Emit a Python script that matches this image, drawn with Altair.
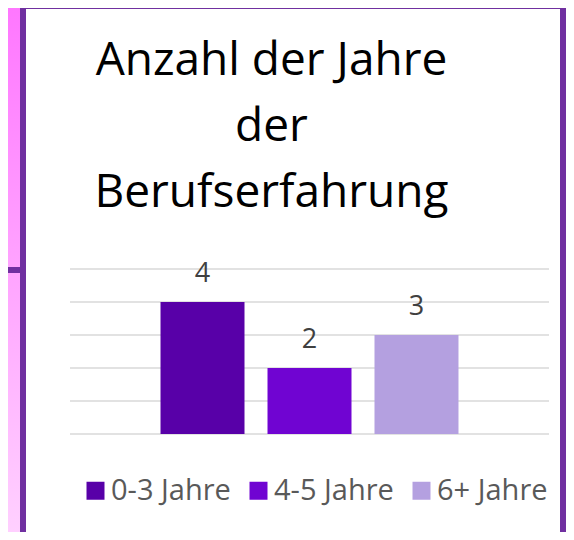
import altair as alt
import pandas as pd

categories = ["0-3 Jahre", "4-5 Jahre", "6+ Jahre"]
values = [4, 2, 3]
colors = ["#5800A8", "#7004D2", "#B4A0E0"]
grid_values = [0, 1, 2, 3, 4, 5]
title_lines = ["Anzahl der Jahre", "der", "Berufserfahrung"]

df = pd.DataFrame({"Kategorie": categories, "Anzahl": values})
grid_df = pd.DataFrame({"Anzahl": grid_values})
one = pd.DataFrame({"k": [0]})

FONT = "Open Sans"
PURPLE = "#7030A0"

y_scale = alt.Scale(domain=[0, 5], nice=False)

x_enc = alt.X("Kategorie:N", sort=categories, axis=None,
              scale=alt.Scale(paddingInner=0.215, paddingOuter=0.846))
y_enc = alt.Y("Anzahl:Q", scale=y_scale, axis=None)

grid = alt.Chart(grid_df).mark_rule(color="#D9D9D9", strokeWidth=1.5).encode(
    y=alt.Y("Anzahl:Q", scale=y_scale, axis=None))

bars = alt.Chart(df).mark_bar().encode(
    x=x_enc,
    y=y_enc,
    color=alt.Color("Kategorie:N", sort=categories,
                    scale=alt.Scale(domain=categories, range=colors),
                    legend=alt.Legend(title=None, orient="none", direction="horizontal",
                                      legendX=11, legendY=207, padding=0,
                                      symbolType="square", symbolSize=324,
                                      symbolStrokeWidth=0, labelFont=FONT,
                                      labelFontSize=29, labelColor="#595959",
                                      labelOffset=1, columnPadding=13,
                                      columns=3)),
)

labels = alt.Chart(df).mark_text(font=FONT, fontSize=27, color="#404040",
                                 baseline="alphabetic", dy=-20).encode(
    x=alt.X("Kategorie:N", sort=categories),
    y="Anzahl:Q",
    text="Anzahl:Q",
)

grad = alt.LinearGradient(gradient="linear",
                          stops=[alt.GradientStop(color="#FF77FF", offset=0),
                                 alt.GradientStop(color="#FFD0FF", offset=1)],
                          x1=0, x2=0, y1=0, y2=1)

pink_strip = alt.Chart(one).mark_rect(fill=grad).encode(
    x=alt.value(-62), x2=alt.value(-50), y=alt.value(-261), y2=alt.value(263))
left_border = alt.Chart(one).mark_rect(fill=PURPLE).encode(
    x=alt.value(-50), x2=alt.value(-44), y=alt.value(-261), y2=alt.value(263))
right_border = alt.Chart(one).mark_rect(fill=PURPLE).encode(
    x=alt.value(490), x2=alt.value(496), y=alt.value(-261), y2=alt.value(263))
top_border = alt.Chart(one).mark_rect(fill=PURPLE).encode(
    x=alt.value(-50), x2=alt.value(496), y=alt.value(-261), y2=alt.value(-260))
side_line = alt.Chart(one).mark_rect(fill=PURPLE).encode(
    x=alt.value(-62), x2=alt.value(-50), y=alt.value(-2), y2=alt.value(4))

chart = alt.layer(
    pink_strip, left_border, right_border, top_border, side_line,
    grid, bars, labels
).properties(
    width=479,
    height=165,
    autosize=alt.AutoSizeParams(type="none"),
    padding={"left": 62, "top": 261, "right": 17, "bottom": 98},
    background="white",
    title=alt.TitleParams(text=title_lines, font=FONT, fontSize=46,
                          fontWeight="normal", color="#000000", lineHeight=66,
                          anchor="middle", frame="group", baseline="bottom",
                          dx=-38, dy=255, offset=0),
).configure_view(stroke=None)

chart.save("out.html", embed_options={"renderer": "svg", "actions": False})
